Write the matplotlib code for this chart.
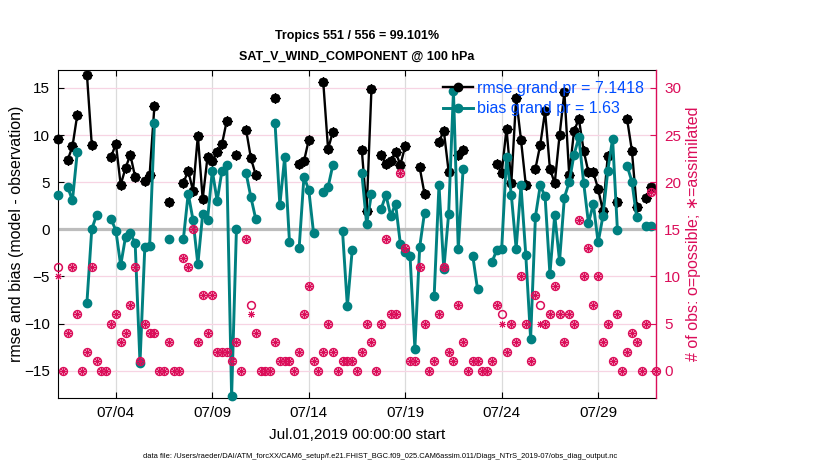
import numpy as np
import pandas as pd
import matplotlib
matplotlib.use("Agg")
import matplotlib.pyplot as plt
import matplotlib.dates as mdates
from matplotlib import font_manager
from matplotlib.lines import Line2D

nan = np.nan

# ---- data (6-hourly bins, Jul 1 2019 00Z .. Aug 1 2019 00Z) ----
start_time = "2019-07-01 00:00"
n_bins = 125

rmse = [9.61, nan, 7.34, 8.79, 12.16, nan, 16.42, 8.97, nan, nan,
        nan, 7.66, 9.08, 4.72, 6.49, 7.91, 5.53, nan, 5.14, 5.78,
        13.12, nan, nan, 2.94, nan, nan, 4.93, 6.21, 4.08, 9.93,
        3.19, 7.66, 7.27, 8.19, 9.04, 11.52, nan, 7.91, nan, 10.57,
        7.55, 5.78, nan, nan, nan, 13.97, nan, nan, nan, nan,
        6.95, 7.20, 9.50, nan, nan, 15.64, 8.51, 10.35, nan, nan,
        nan, nan, nan, 8.40, 1.99, 14.93, nan, 7.84, 6.95, 7.20,
        8.19, 6.84, 8.83, nan, nan, 6.56, 3.76, nan, nan, 9.26,
        10.46, 6.13, nan, 7.91, 8.44, nan, nan, nan, nan, nan,
        nan, 6.95, 5.96, 10.67, 4.89, 13.94, 9.50, 4.72, nan, 6.42,
        8.97, 12.52, 6.42, 4.89, 9.96, 14.57, 5.78, 10.39, 11.74, 8.35,
        6.04, 6.04, 4.30, 1.93, 7.80, nan, 2.94, nan, 11.72, 8.35,
        2.34, nan, 3.33, 4.50, nan]

bias = [3.65, nan, 4.47, 3.09, 8.19, nan, -7.77, 0.00, 1.52, nan,
        nan, 1.10, -0.14, -3.83, -0.82, -0.43, -1.49, -14.18, -1.91, -1.77,
        11.28, nan, nan, -1.06, nan, nan, -1.03, 3.79, 0.99, -3.72,
        1.63, 0.99, 6.21, 3.01, 6.21, 6.77, -17.73, 0.04, nan, 5.96,
        3.40, 1.10, nan, nan, nan, 11.28, 2.59, 7.62, -1.35, nan,
        -2.00, 5.57, 4.18, -0.43, nan, 4.00, 4.47, 6.84, nan, -0.21,
        -8.16, -2.23, nan, 5.96, 0.53, 3.76, nan, 2.16, 3.65, 1.42,
        2.70, -1.60, -2.38, -2.84, -12.66, -1.88, 1.77, nan, -7.09, 4.72,
        -4.26, 1.63, 14.65, -2.13, 6.38, nan, -2.80, -6.38, nan, nan,
        -3.44, -2.20, -2.09, 7.62, 3.65, -2.06, 4.65, -2.73, -11.60, 1.35,
        4.65, 3.48, -4.75, 1.52, -3.37, 3.37, 5.00, 7.91, 9.75, 4.93,
        0.64, 2.70, -1.40, 1.40, 6.22, 9.60, -0.10, nan, 6.75, 5.07,
        1.26, nan, 0.39, 0.30, nan]

nobs_possible = [11, 0, 4, 11, 6, 0, 2, 11, 1, 0,
                 0, 5, 6, 3, 4, 7, 11, 1, 5, 4,
                 4, 0, 0, 3, 0, 0, 12, 11, 15, 3,
                 8, 4, 8, 2, 2, 2, 1, 3, 0, 14,
                 7, 4, 0, 0, 0, 3, 1, 1, 1, 0,
                 2, 6, 9, 1, 0, 2, 5, 2, 0, 1,
                 1, 1, 0, 2, 5, 3, 0, 5, 14, 6,
                 6, 21, 13, 1, 1, 11, 5, 0, 1, 6,
                 11, 2, 1, 7, 3, 0, 1, 1, 0, 0,
                 1, 7, 6, 2, 5, 3, 10, 5, 1, 8,
                 7, 5, 6, 9, 6, 3, 6, 5, 16, 10,
                 13, 7, 10, 3, 5, 1, 6, 0, 2, 4,
                 3, 0, 5, 19, 0]

nobs_assimilated = [10, 0, 4, 11, 6, 0, 2, 11, 1, 0,
                    0, 5, 6, 3, 4, 7, 11, 1, 5, 4,
                    4, 0, 0, 3, 0, 0, 12, 11, 15, 3,
                    8, 4, 8, 2, 2, 2, 1, 3, 0, 14,
                    6, 4, 0, 0, 0, 3, 1, 1, 1, 0,
                    2, 6, 9, 1, 0, 2, 5, 2, 0, 1,
                    1, 1, 0, 2, 5, 3, 0, 5, 14, 6,
                    6, 21, 13, 1, 1, 11, 5, 0, 1, 6,
                    11, 2, 1, 7, 3, 0, 1, 1, 0, 0,
                    1, 7, 5, 2, 5, 3, 10, 5, 1, 8,
                    5, 5, 6, 9, 6, 3, 6, 5, 16, 10,
                    13, 7, 10, 3, 5, 1, 6, 0, 2, 4,
                    3, 0, 5, 19, 0]

tick_days = ["2019-07-04", "2019-07-09", "2019-07-14", "2019-07-19",
             "2019-07-24", "2019-07-29"]
left_ticks = [-15, -10, -5, 0, 5, 10, 15]
right_ticks = [0, 5, 10, 15, 20, 25, 30]

title1 = "Tropics 551 / 556 = 99.101%"
title2 = "SAT_V_WIND_COMPONENT @ 100 hPa"
legend_labels = ["rmse grand pr = 7.1418", "bias grand pr = 1.63"]
xlabel = "Jul.01,2019 00:00:00 start"
ylabel_left = "rmse and bias (model - observation)"
ylabel_right = "# of obs: o=possible; \u2217=assimilated"
footer = ("data file: /Users/raeder/DAI/ATM_forcXX/CAM6_setup/f.e21.FHIST_BGC.f09_025."
          "CAM6assim.011/Diags_NTrS_2019-07/obs_diag_output.nc")

# ---- style ----
plt.rcParams['font.family'] = ['Liberation Sans', 'DejaVu Sans']
names = {f.name for f in font_manager.fontManager.ttflist}
narrow = 'Liberation Sans Narrow' in names
title_family = ['Liberation Sans Narrow', 'Liberation Sans'] if narrow else ['Liberation Sans', 'DejaVu Sans']
title_size = 9.6 if narrow else 9.0
foot_size = 6.4 if narrow else 5.4

teal = (0.0, 0.5, 0.5)
crimson = (0.86, 0.05, 0.35)
blue = (0.0, 0.3, 1.0)
asterisk = (8, 2, 0)

times = pd.date_range(start_time, periods=n_bins, freq="6h")

fig = plt.figure(figsize=(8.3, 4.7), dpi=100)
ax = fig.add_axes([58/830, 1-398/470, 598/830, 328/470])
ax2 = ax.twinx()

# grid & zero line on left axes
ax.set_axisbelow(True)
ax.grid(axis='x', color=(0.86, 0.86, 0.86), lw=0.9)
ax.grid(axis='y', color=(0.97, 0.83, 0.89), lw=0.9)
ax.axhline(0, color=(0.74, 0.74, 0.74), lw=2.3, zorder=1.5)

ax.plot(times, rmse, '-', color='black', lw=1.7, marker='o', ms=6.0,
        mfc='black', mec='black', zorder=3, clip_on=False)
ax.plot(times, rmse, ls='none', marker=asterisk, ms=7.2, mew=0.8, color='black',
        zorder=3, clip_on=False)
ax.plot(times, bias, '-', color=teal, lw=2.1, marker='o', ms=6.0,
        mfc=teal, mec=teal, zorder=4, clip_on=False)

ax2.plot(times, nobs_possible, ls='none', marker='o', ms=5.6, mfc='none',
         mec=crimson, mew=1.1, clip_on=False)
ax2.plot(times, nobs_assimilated, ls='none', marker=asterisk, ms=5.0, color=crimson,
         mew=0.7, clip_on=False)

ax.set_xlim(times[0], times[-1])
ax.set_ylim(-17.9, 16.9)
ax2.set_ylim(-2.9, 31.9)
ax.set_yticks(left_ticks)
ax2.set_yticks(right_ticks)
ax.set_xticks(pd.to_datetime(tick_days))
ax.xaxis.set_major_formatter(mdates.DateFormatter('%m/%d'))

ax.tick_params(axis='both', direction='in', length=4, labelsize=11, pad=6,
               top=True)
ax2.tick_params(axis='y', direction='in', length=4, labelsize=11, pad=6,
                colors=crimson)
ax.spines['right'].set_visible(False)
for s in ['left', 'top', 'bottom']:
    ax2.spines[s].set_visible(False)
ax2.spines['right'].set_color(crimson)
ax2.spines['right'].set_linewidth(1.0)

ax.set_xlabel(xlabel, fontsize=11)
ax.xaxis.label.set_va('center')
ax.xaxis.set_label_coords(0.5, (398-435)/328)
ax.set_ylabel(ylabel_left, fontsize=11.5)
ax.yaxis.label.set_va('center')
ax.yaxis.set_label_coords((17-58)/598, 0.5)
ax2.set_ylabel(ylabel_right, fontsize=11.5, color=crimson)
ax2.yaxis.label.set_va('center')
ax2.yaxis.set_label_coords((693-58)/598, 0.5)

handles = [Line2D([], [], color='black', lw=1.7, marker='o', ms=6.0, mfc='black'),
           Line2D([], [], color=teal, lw=2.1, marker='o', ms=6.0, mfc=teal)]
leg = ax2.legend(handles, legend_labels, loc='upper left',
                 bbox_to_anchor=(443/830, 1-81/470), bbox_transform=fig.transFigure,
                 frameon=False, fontsize=11.5, handlelength=1.9, handletextpad=0.2,
                 labelspacing=0.32, borderpad=0, borderaxespad=0, labelcolor=blue)

fig.text(357/830, 1-36/470, title1, ha='center', va='center', fontweight='bold',
         fontsize=title_size, family=title_family)
fig.text(357/830, 1-57/470, title2, ha='center', va='center', fontweight='bold',
         fontsize=title_size, family=title_family)
fig.text(380/830, 1-456/470, footer, ha='center', va='center', fontsize=foot_size,
         family=title_family)

fig.savefig("out.png", dpi=100)
